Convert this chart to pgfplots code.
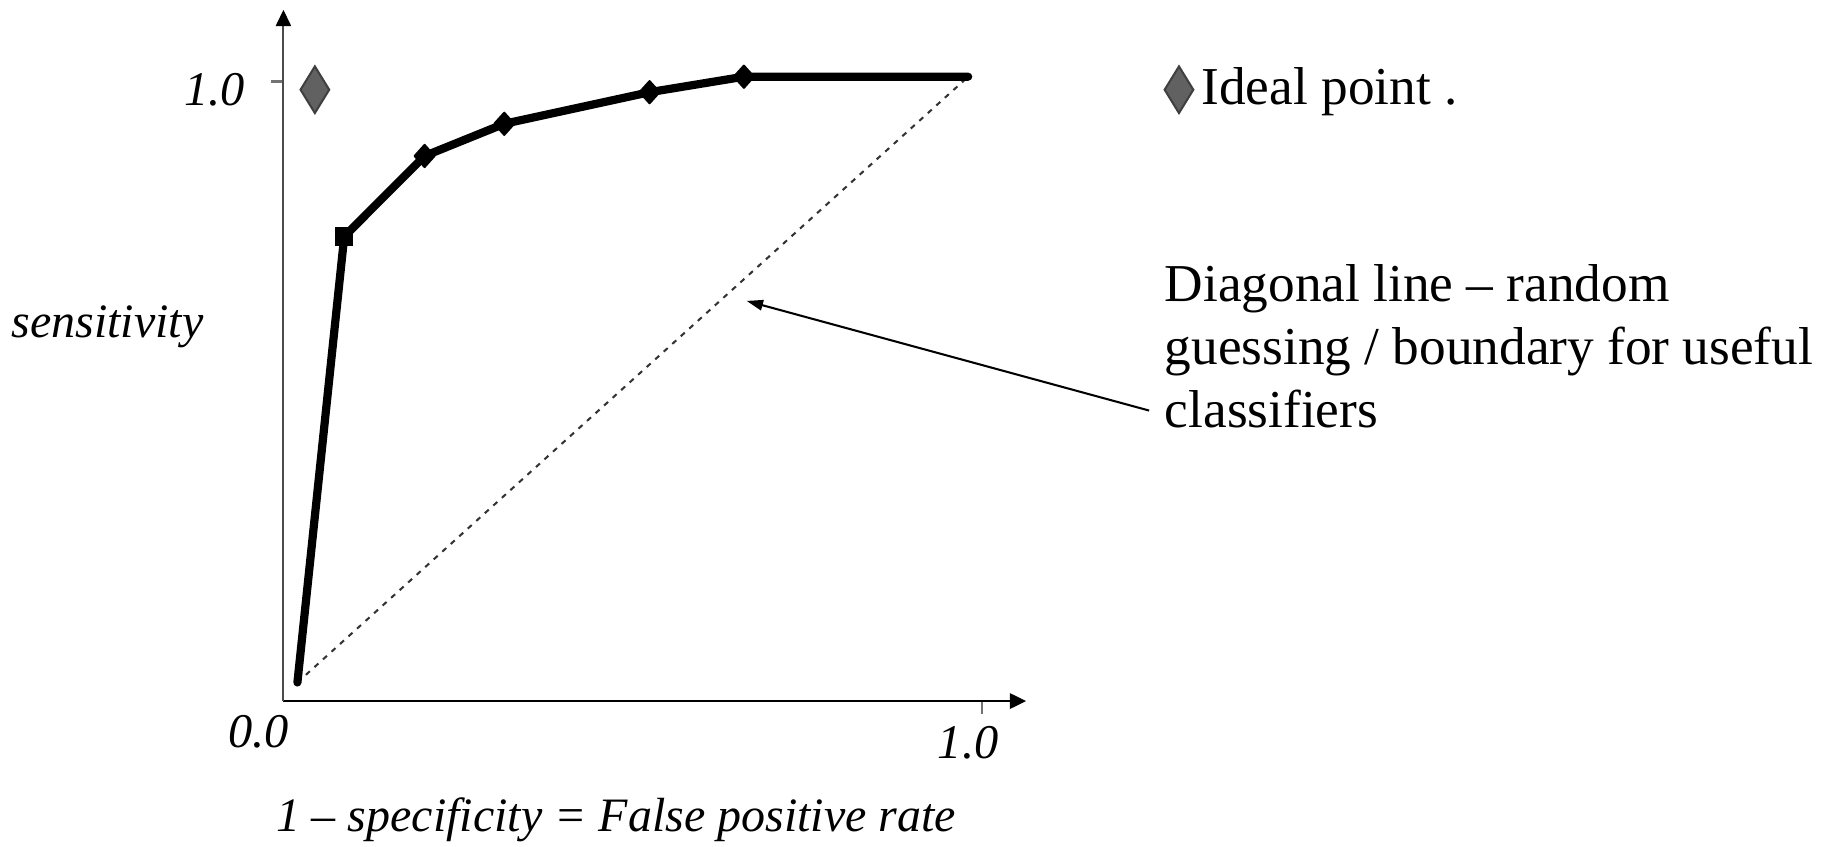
\documentclass[border=0pt,12pt]{standalone}
\usepackage{fontspec}
\setmainfont{Liberation Serif}
\usepackage{pgfplots}
\pgfplotsset{compat=1.18}
\usetikzlibrary{arrows.meta}

% ROC curve
\pgfplotstableread{
fpr    tpr
0.020  0.030
0.087  0.750
0.202  0.880
0.316  0.932
0.524  0.983
0.659  1.008
0.980  1.008
}\roccurve

\begin{document}
\begin{tikzpicture}
\useasboundingbox (-2.43cm,-1.25cm) rectangle (13.25cm,6.01cm);
\begin{axis}[
    x=5.99cm, y=5.31cm,
    xmin=0, xmax=1.063,
    ymin=0, ymax=1.116,
    clip=false,
    axis lines=left,
    axis line style={-{Triangle[length=0.14cm,width=0.13cm,color=black]}},
    x axis line style={black, line width=0.7pt},
    y axis line style={black!70, line width=0.5pt},
    xtick={1}, xticklabels={\textit{1.0}},
    ytick={1}, yticklabels={\textit{1.0}},
    tick align=outside,
    major tick length=0.11cm,
    tick style={black!55, line width=0.6pt},
    ticklabel style={font=\fontsize{11.8}{14}\selectfont},
    xticklabel style={anchor=center, xshift=-0.12cm, yshift=-0.25cm},
    yticklabel style={anchor=center, xshift=-0.48cm, yshift=-0.07cm},
    label style={font=\fontsize{11.7}{14}\selectfont},
    xlabel={\textit{1 -- specificity = False positive rate}},
    xlabel style={at={(axis description cs:0.4476,-0.172)}, anchor=center},
    ylabel={\textit{sensitivity}},
    ylabel style={at={(axis description cs:-0.237,0.5417)}, anchor=center, rotate=-90},
    legend style={draw=none, fill=none, inner sep=0pt,
        at={(axis cs:1.26,0.987)}, anchor=west,
        font=\fontsize{13}{15}\selectfont},
    legend cell align=left,
    legend image code/.code={\draw[#1] plot coordinates {(0cm,0cm)};},
]
\addplot[forget plot, black!80, line width=0.5pt, dash pattern=on 1.3pt off 1.5pt]
    coordinates {(0.02,0.03) (0.98,1.008)};
\addplot[forget plot, black, line width=2pt, line cap=round, line join=round,
    mark=diamond*, mark indices={3,4,5,6}, mark size=2.7pt,
    mark options={solid, line width=0.5pt, xscale=1.2}]
    table[x=fpr, y=tpr] {\roccurve};
\addplot[forget plot, only marks, black, mark=square*, mark indices={2}, mark size=2pt]
    table[x=fpr, y=tpr] {\roccurve};
\addplot[only marks, mark=diamond*, mark size=0.2cm,
    mark options={fill=black!62, draw=black!75, line width=0.5pt, xscale=0.82}]
    coordinates {(0.045,0.987)};
\addlegendentry{Ideal point .}
\node[inner sep=0pt, font=\fontsize{11.8}{14}\selectfont] at (axis cs:0,0)
    [xshift=-0.21cm, yshift=-0.26cm] {\textit{0.0}};
\node[anchor=west, align=left, inner sep=0pt, font=\fontsize{13}{15.4}\selectfont]
    at (axis cs:1.2604,0.5725)
    {Diagonal line -- random\\guessing / boundary for useful\\classifiers};
\draw[-{Triangle[length=0.14cm,width=0.09cm]}, line width=0.5pt]
    (axis cs:1.239,0.469) -- (axis cs:0.663,0.646);
\end{axis}
\end{tikzpicture}
\end{document}
